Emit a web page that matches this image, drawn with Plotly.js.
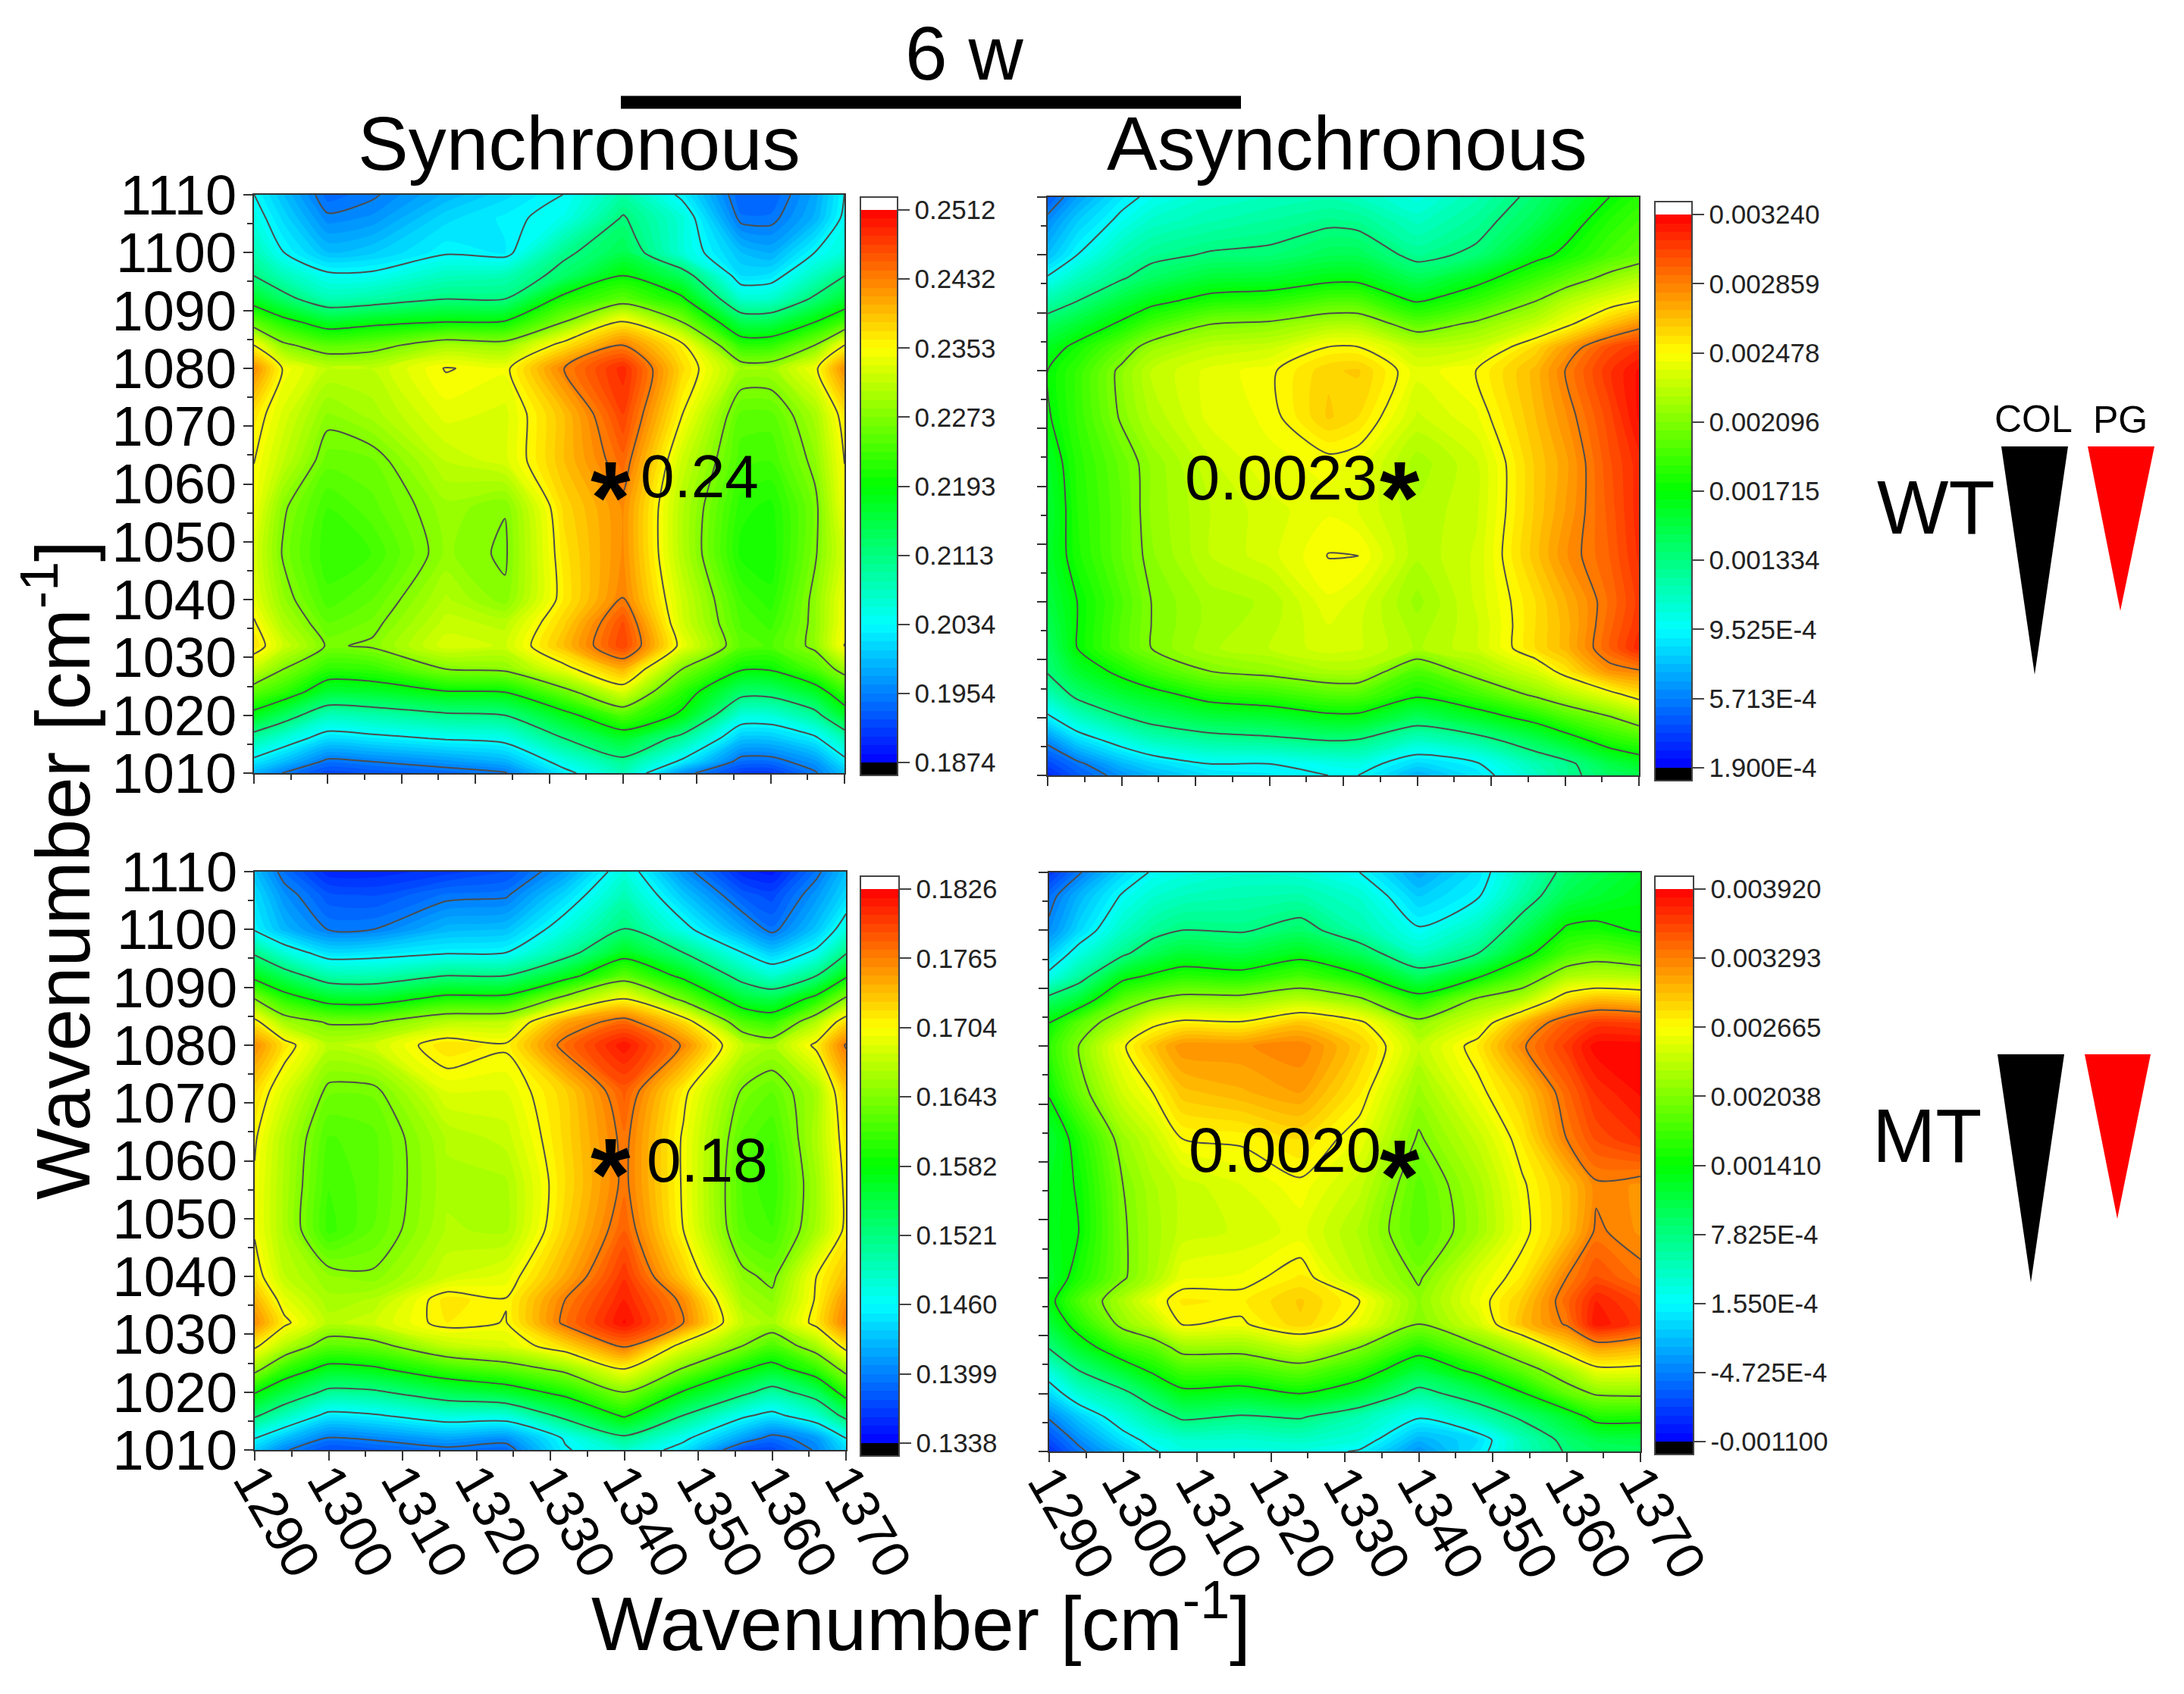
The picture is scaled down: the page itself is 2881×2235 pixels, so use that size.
<!DOCTYPE html>
<html>
<head>
<meta charset="utf-8">
<script src="https://cdn.plot.ly/plotly-3.0.1.min.js"></script>
<style>html,body{margin:0;padding:0;background:#fff}</style>
</head>
<body>
<div id="chart" style="width:2881px;height:2235px"></div>
<script>
// wavenumber nodes
const yNodes = [1110,1106,1100,1096,1092,1088,1084,1080,1072,1064,1056,1048,1040,1036,1032,1028,1024,1020,1016,1012,1010];
const xSync = [1290,1294,1300,1306,1316,1324,1332,1340,1348,1356,1360,1366,1370];
const xAsyncWT = [1290,1294,1300,1304,1312,1320,1328,1332,1340,1348,1356,1360,1366,1370];
const xAsyncMT = [1290,1294,1300,1304,1308,1316,1324,1332,1340,1348,1354,1360,1364,1370];

// intensities: sync in units of 1e-4, async in units of 1e-6
const wtSync = [
[2034,1994,1938,1950,1986,2010,2034,2089,2026,1934,1934,1978,2034],
[2049,2010,1958,1966,2010,2026,2045,2117,2057,1946,1946,1986,2041],
[2081,2034,1994,2002,2030,2022,2105,2145,2057,1994,1982,2034,2057],
[2113,2077,2041,2041,2073,2081,2129,2193,2137,2014,2018,2073,2113],
[2169,2129,2081,2089,2113,2113,2209,2249,2201,2065,2065,2121,2161],
[2249,2209,2169,2181,2193,2197,2273,2360,2273,2145,2145,2193,2233],
[2353,2281,2249,2257,2297,2289,2368,2432,2360,2221,2221,2273,2353],
[2424,2349,2313,2313,2354,2345,2432,2488,2376,2293,2293,2345,2424],
[2368,2329,2281,2297,2337,2329,2392,2472,2353,2249,2249,2297,2368],
[2353,2313,2257,2261,2313,2329,2392,2448,2321,2237,2233,2281,2353],
[2345,2277,2233,2249,2289,2274,2376,2424,2305,2217,2209,2265,2345],
[2329,2269,2225,2233,2285,2269,2368,2424,2305,2209,2205,2269,2329],
[2337,2285,2237,2253,2305,2277,2364,2433,2321,2233,2217,2281,2345],
[2356,2301,2253,2265,2317,2309,2380,2464,2325,2241,2229,2281,2348],
[2372,2321,2269,2277,2329,2321,2392,2472,2341,2249,2241,2281,2353],
[2317,2273,2221,2225,2273,2281,2341,2400,2273,2197,2197,2241,2289],
[2249,2221,2161,2165,2189,2193,2257,2329,2217,2129,2129,2169,2225],
[2177,2137,2077,2085,2105,2113,2177,2241,2185,2057,2057,2097,2169],
[2089,2057,2014,2022,2037,2045,2113,2165,2097,1998,1998,2026,2081],
[2022,1994,1946,1954,1970,1986,2049,2101,2026,1942,1942,1970,2022],
[1986,1952,1918,1926,1938,1951,2022,2077,1966,1910,1910,1950,1994]
];
const wtAsync = [
[457,667,895,991,1105,1143,1181,1143,1029,1181,1391,1524,1715,1829],
[609,800,991,1105,1181,1238,1296,1277,1124,1258,1467,1620,1810,1906],
[762,953,1181,1277,1353,1372,1467,1467,1277,1372,1658,1753,1925,2001],
[972,1143,1315,1429,1563,1582,1658,1658,1467,1639,1868,1982,2153,2249],
[1200,1334,1543,1658,1791,1829,1944,1944,1696,1868,2096,2249,2401,2478],
[1448,1563,1753,1906,2096,2134,2230,2230,2001,2134,2306,2439,2668,2802],
[1620,1772,2001,2173,2287,2325,2485,2485,2287,2325,2592,2763,3011,3088],
[1715,1868,2134,2287,2401,2458,2611,2630,2401,2478,2687,2859,3088,3202],
[1696,1868,2115,2249,2401,2439,2630,2573,2325,2420,2668,2802,3030,3202],
[1601,1829,2020,2153,2325,2420,2439,2420,2211,2325,2630,2744,2992,3126],
[1563,1810,2001,2153,2287,2363,2420,2382,2249,2325,2630,2763,2973,3126],
[1582,1791,2001,2134,2287,2363,2481,2481,2249,2344,2649,2802,2954,3107],
[1524,1715,1944,2096,2211,2249,2420,2363,2173,2344,2573,2706,2916,3068],
[1467,1715,1963,2096,2211,2268,2382,2344,2211,2325,2573,2687,2935,3088],
[1410,1715,1963,2096,2230,2287,2363,2344,2230,2325,2573,2687,2954,3126],
[1353,1582,1772,1906,2096,2153,2230,2230,1944,2173,2363,2535,2802,2840],
[1162,1391,1563,1639,1810,1868,1963,1963,1753,1906,2134,2249,2420,2554],
[914,1124,1315,1410,1524,1563,1658,1658,1448,1601,1791,1925,2077,2211],
[609,838,1029,1143,1238,1277,1334,1315,1124,1238,1467,1601,1810,1887],
[400,533,743,838,953,953,1010,1029,838,933,1181,1277,1505,1601],
[304,457,628,724,857,895,953,953,724,876,1124,1277,1429,1486]
];
const mtSync = [
[1430,1390,1356,1356,1365,1375,1415,1477,1408,1356,1350,1393,1430],
[1445,1408,1378,1375,1393,1396,1442,1494,1433,1381,1372,1411,1442],
[1457,1426,1398,1399,1426,1430,1475,1524,1469,1417,1393,1433,1475],
[1515,1478,1445,1448,1457,1460,1506,1567,1521,1460,1436,1466,1518],
[1570,1539,1500,1497,1521,1521,1567,1625,1573,1506,1484,1521,1576],
[1643,1600,1567,1564,1594,1594,1655,1704,1634,1558,1548,1594,1649],
[1713,1661,1640,1640,1670,1674,1747,1777,1722,1619,1606,1667,1722],
[1759,1716,1670,1680,1719,1707,1774,1817,1762,1674,1661,1710,1768],
[1722,1686,1637,1637,1689,1689,1725,1783,1710,1640,1628,1661,1731],
[1707,1667,1619,1625,1667,1677,1722,1771,1701,1625,1613,1664,1716],
[1701,1664,1613,1625,1664,1664,1719,1770,1701,1619,1606,1658,1710],
[1701,1664,1609,1628,1667,1664,1725,1780,1704,1622,1613,1661,1710],
[1716,1674,1652,1646,1680,1692,1744,1802,1728,1649,1637,1704,1735],
[1741,1692,1661,1667,1716,1705,1765,1811,1759,1661,1649,1707,1756],
[1759,1710,1670,1680,1712,1703,1771,1820,1765,1674,1661,1713,1765],
[1710,1670,1625,1631,1674,1686,1722,1771,1692,1643,1619,1661,1716],
[1655,1606,1570,1576,1609,1625,1652,1704,1640,1585,1567,1606,1655],
[1585,1552,1512,1515,1545,1561,1594,1643,1579,1530,1506,1539,1600],
[1527,1494,1451,1457,1478,1478,1533,1588,1521,1466,1451,1484,1533],
[1460,1430,1396,1402,1417,1408,1463,1512,1466,1414,1390,1411,1460],
[1436,1402,1375,1381,1393,1387,1457,1484,1448,1375,1372,1402,1442]
];
const mtAsync = [
[-849,-504,-33,186,281,375,343,155,-284,30,469,877,1034,1222],
[-567,-222,186,375,469,532,563,375,-96,124,594,1034,1159,1316],
[-410,-33,437,657,783,751,908,563,186,500,971,1473,1504,1379],
[-96,281,720,1002,1159,1096,1285,971,469,783,1285,1755,1881,1755],
[249,626,1316,1473,1598,1536,1755,1473,971,1379,1787,2257,2320,2289],
[908,1159,1849,2038,2163,2163,2320,2100,1567,2100,2289,2853,3010,2947],
[1410,1849,2257,2602,2728,2696,2947,2728,2132,2477,3042,3481,3638,3606],
[1630,2038,2634,2947,3198,3198,3280,2916,2351,2759,3261,3638,3889,3889],
[1441,1912,2445,2665,2947,3042,3136,2759,2163,2602,2916,3418,3700,3857],
[1159,1536,2163,2383,2665,2696,2822,2571,2006,2383,2759,3293,3544,3700],
[1253,1441,2038,2257,2383,2508,2634,2383,1849,2226,2634,2947,3261,3198],
[1285,1410,2006,2226,2383,2445,2540,2257,1818,2194,2602,2947,3324,3198],
[1190,1536,2006,2257,2571,2602,2759,2351,2006,2508,2759,3293,3544,3355],
[1316,1787,2257,2571,2759,2728,2916,2665,2100,2571,2916,3418,3763,3575],
[1128,1567,2132,2351,2678,2634,2884,2571,2038,2445,2979,3324,3826,3638],
[814,1222,1692,1849,2163,2163,2383,2038,1567,1975,2320,2853,3136,3042],
[343,783,1190,1473,1724,1724,1881,1598,1128,1504,1881,2226,2571,2571],
[-33,375,688,1002,1316,1253,1410,1159,657,971,1379,1881,2069,2100],
[-441,-96,343,594,845,751,814,532,186,532,845,1190,1536,1536],
[-723,-410,30,249,375,375,437,312,-222,-2,500,877,1034,1065],
[-880,-535,-159,124,281,281,281,124,-378,61,469,814,939,971]
];

// colour bar labels and where they sit in the z units above
const wtSyncTicks = ['0.1874','0.1954','0.2034','0.2113','0.2193','0.2273','0.2353','0.2432','0.2512'];
const wtSyncTickVals = [1874,1953.75,2033.5,2113.25,2193,2272.75,2352.5,2432.25,2512];
const wtAsyncTicks = ['1.900E-4','5.713E-4','9.525E-4','0.001334','0.001715','0.002096','0.002478','0.002859','0.003240'];
const wtAsyncTickVals = [190,571.25,952.5,1333.75,1715,2096.25,2477.5,2858.75,3240];
const mtSyncTicks = ['0.1338','0.1399','0.1460','0.1521','0.1582','0.1643','0.1704','0.1765','0.1826'];
const mtSyncTickVals = [1338,1399,1460,1521,1582,1643,1704,1765,1826];
const mtAsyncTicks = ['-0.001100','-4.725E-4','1.550E-4','7.825E-4','0.001410','0.002038','0.002665','0.003293','0.003920'];
const mtAsyncTickVals = [-1100,-472.5,155,782.5,1410,2037.5,2665,3292.5,3920];

const W = 2881, H = 2235;
const FONT = 'Liberation Sans, Arial, sans-serif';
const fx = x => x / W;
const fy = y => 1 - y / H;

// blue-cyan-green-yellow-red over the 64 inner bands, black below, white above
const N = 67;
const rainbow = [
    [0, '#000000'], [1.5 / N, '#000000'],
    [1.5 / N, '#0000ff'], [17.5 / N, '#00ffff'], [33.5 / N, '#00ff00'], [49.5 / N, '#ffff00'], [65.5 / N, '#ff0000'],
    [65.5 / N, '#ffffff'], [1, '#ffffff']
];

const panels = [
    {z: wtSync, x: xSync, vals: wtSyncTickVals, text: wtSyncTicks, box: [335, 1114, 257, 1020], bar: [1135, 1184, 260, 1023], left: true, bottom: false},
    {z: wtAsync, x: xAsyncWT, vals: wtAsyncTickVals, text: wtAsyncTicks, box: [1382, 2162, 260, 1023], bar: [2183, 2232, 266, 1030], left: false, bottom: false},
    {z: mtSync, x: xSync, vals: mtSyncTickVals, text: mtSyncTicks, box: [336, 1116, 1150, 1913], bar: [1135, 1186, 1156, 1921], left: true, bottom: true},
    {z: mtAsync, x: xAsyncMT, vals: mtAsyncTickVals, text: mtAsyncTicks, box: [1384, 2164, 1151, 1915], bar: [2183, 2234, 1156, 1919], left: false, bottom: true}
];

const traces = [];
const layout = {
    width: W, height: H,
    margin: {l: 0, r: 0, t: 0, b: 0, autoexpand: false},
    paper_bgcolor: '#fff', plot_bgcolor: '#fff',
    showlegend: false,
    font: {family: FONT, color: '#111'},
    annotations: [], shapes: []
};

panels.forEach((p, i) => {
    const n = i + 1, suffix = n === 1 ? '' : n;
    const v0 = p.vals[0], v8 = p.vals[8], major = (v8 - v0) / 8, band = major / 8;
    traces.push({
        type: 'contour', x: p.x, y: yNodes, z: p.z,
        xaxis: 'x' + suffix, yaxis: 'y' + suffix,
        autocontour: false,
        contours: {start: v0 - band, end: v8 + band, size: band, coloring: 'fill', showlines: false},
        line: {width: 0, smoothing: 0.7},
        colorscale: rainbow,
        colorbar: {
            x: fx(p.bar[0]), xanchor: 'left', xpad: 0,
            y: fy(p.bar[2]), yanchor: 'top', ypad: 0,
            lenmode: 'pixels', len: p.bar[3] - p.bar[2],
            thicknessmode: 'pixels', thickness: p.bar[1] - p.bar[0],
            outlinecolor: '#444', outlinewidth: 2,
            tickmode: 'array', tickvals: p.vals, ticktext: p.text,
            ticks: 'outside', ticklen: 15, tickwidth: 2, tickcolor: '#444',
            tickfont: {family: FONT, size: 35, color: '#222'}
        },
        hoverinfo: 'skip'
    });
    traces.push({
        type: 'contour', x: p.x, y: yNodes, z: p.z,
        xaxis: 'x' + suffix, yaxis: 'y' + suffix,
        autocontour: false,
        contours: {start: v0 + major, end: v8 - major, size: major, coloring: 'none'},
        line: {color: '#4d4d4d', width: 2, smoothing: 0.7},
        showscale: false,
        hoverinfo: 'skip'
    });
    const axis = {
        showline: true, linecolor: '#333', linewidth: 2, mirror: true,
        showgrid: false, zeroline: false,
        ticks: 'outside', ticklen: 12, tickwidth: 2, tickcolor: '#333',
        dtick: 10, tick0: 1010,
        minor: {dtick: 5, ticks: 'outside', ticklen: 7, tickwidth: 2, tickcolor: '#333'}
    };
    layout['xaxis' + suffix] = Object.assign({}, axis, {
        anchor: 'y' + suffix, range: [1290, 1370],
        domain: [fx(p.box[0]), fx(p.box[1])],
        showticklabels: p.bottom, tickangle: 60,
        ticklabelstandoff: -42,
        tickfont: {family: FONT, size: 70, color: '#000'}
    });
    layout['yaxis' + suffix] = Object.assign({}, axis, {
        anchor: 'x' + suffix, range: [1010, 1110],
        domain: [fy(p.box[3]), fy(p.box[2])],
        showticklabels: p.left,
        ticklabelstandoff: -6,
        tickfont: {family: FONT, size: 74, color: '#000'}
    });
});

function label(text, x, y, size, extra) {
    layout.annotations.push(Object.assign({
        text: text, xref: 'paper', yref: 'paper', x: fx(x), y: fy(y),
        xanchor: 'center', yanchor: 'middle', showarrow: false,
        font: {family: FONT, size: size, color: '#000'}
    }, extra || {}));
}
function star(x, y) {
    label('*', x, y, 135, {font: {family: FONT, size: 135, color: '#000', weight: 700}});
}

label('6 w', 1272, 70, 100);
label('Synchronous', 764, 189, 100);
label('Asynchronous', 1777, 189, 100);
label('Wavenumber [cm<sup>-1</sup>]', 1215, 2135, 100);
label('Wavenumber [cm<sup>-1</sup>]', 76, 1148, 100, {textangle: -90});
label('0.24', 923, 628, 80);
label('0.0023', 1690, 631, 83);
label('0.18', 933, 1530, 82);
label('0.0020', 1695, 1517, 83);
star(806, 656);
star(1846, 656);
star(806, 1549);
star(1846, 1551);
label('WT', 2553, 669, 100);
label('MT', 2542, 1498, 100);
label('COL', 2682, 553, 50);
label('PG', 2797, 554, 50);

function wedge(x0, x1, top, tipX, tipY, color) {
    layout.shapes.push({
        type: 'path', xref: 'paper', yref: 'paper',
        path: 'M ' + fx(x0) + ' ' + fy(top) + ' L ' + fx(x1) + ' ' + fy(top) + ' L ' + fx(tipX) + ' ' + fy(tipY) + ' Z',
        fillcolor: color, line: {width: 0}
    });
}
wedge(2640, 2728, 589, 2684, 890, '#000');
wedge(2754, 2842, 589, 2797, 806, '#ff0000');
wedge(2635, 2723, 1391, 2679, 1692, '#000');
wedge(2750, 2837, 1391, 2793, 1608, '#ff0000');
layout.shapes.push({
    type: 'line', xref: 'paper', yref: 'paper',
    x0: fx(819), x1: fx(1637), y0: fy(135), y1: fy(135),
    line: {color: '#000', width: 17}
});

Plotly.newPlot('chart', traces, layout, {displayModeBar: false});
</script>
</body>
</html>
